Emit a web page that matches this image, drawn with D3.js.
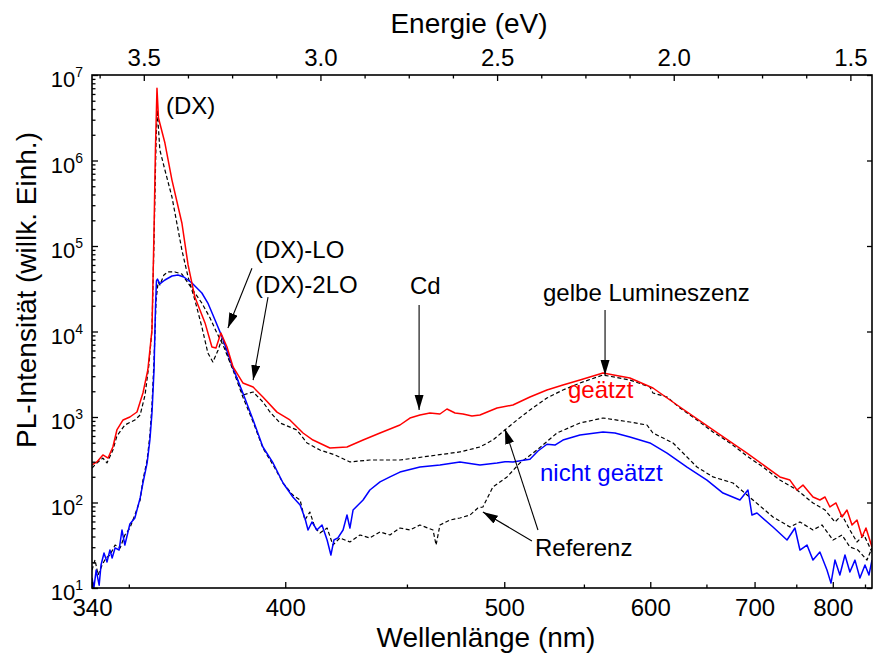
<!DOCTYPE html>
<html>
<head>
<meta charset="utf-8">
<script src="https://cdn.jsdelivr.net/npm/d3@7"></script>
<style>
  body { margin: 0; background: #fff; }
  text { font-family: "Liberation Sans", Arial, Helvetica, sans-serif; fill: #000; }
</style>
</head>
<body>
<svg id="chart" width="874" height="654"></svg>
<script>
// Photoluminescence spectra: wavelength (nm) and intensity (arb. units)
const redNm = [340, 341.3, 342.9, 344.3, 345.6, 346.7, 348.4, 350.3, 352.3, 354.0, 355.4, 356.6, 357.2, 357.6, 358.06, 358.5, 360.4, 362.5, 365.5, 367.4, 369.5, 372.7, 374.9, 376.2, 377.8, 379.8, 381.8, 385.1, 388.6, 392.0, 397.0, 401.7, 406.6, 410.4, 417.0, 423.9, 430.6, 437.9, 446.8, 451.4, 456.1, 460.9, 465.8, 469.3, 473.4, 477.5, 482.2, 486.5, 495.9, 505.0, 515.1, 525.6, 535.9, 547.3, 563.5, 583.7, 602.2, 625.4, 656.4, 691.6, 729.5, 741.9, 750.9, 758.7, 772.1, 781.6, 788.8, 795.8, 804.7, 813.7, 821.3, 829.1, 837.0, 845.1, 851.6, 861.7];
const redI = [275, 298, 360, 331, 446, 705, 923, 1000, 1144, 1909, 3548, 10400, 154000, 1330000, 7000000, 3140000, 1600000, 590000, 186000, 60000, 25300, 12600, 6590, 6400, 9600, 6590, 3850, 2500, 2240, 1710, 1140, 923, 650, 538, 434, 446, 538, 650, 806, 973, 1055, 1114, 1084, 1240, 1114, 1084, 1027, 1055, 1274, 1381, 1714, 2070, 2368, 2709, 3271, 2858, 2183, 1309, 705, 379, 199, 183, 140, 160, 116, 107, 116, 88.6, 98.7, 67.7, 81.7, 54.6, 62.4, 39.5, 50.3, 30.2];

const blueNm = [340, 340.5, 341.1, 341.9, 342.4, 343.2, 344.0, 344.8, 345.4, 346.2, 347.3, 348.1, 348.9, 350.3, 351.7, 353.2, 354.0, 355.2, 356.0, 356.6, 357.2, 357.6, 357.9, 358.2, 358.9, 360.4, 362.5, 364.3, 366.1, 368.6, 371.7, 373.6, 375.9, 378.2, 381.8, 385.1, 388.6, 392.0, 395.6, 399.2, 402.8, 405.5, 407.3, 408.5, 410.0, 411.9, 413.9, 415.9, 417.4, 418.6, 420.2, 422.3, 423.9, 425.1, 426.4, 428.5, 430.6, 433.5, 437.9, 442.3, 446.8, 456.1, 465.8, 475.9, 486.5, 495.9, 500.4, 505.0, 510.3, 515.1, 520.0, 525.6, 530.7, 535.9, 547.3, 563.5, 572.3, 583.7, 599.7, 614.1, 631.8, 650.5, 666.4, 684.0, 692.7, 697.1, 702.7, 721.2, 738.3, 748.3, 754.7, 764.0, 772.1, 781.6, 791.6, 797.4, 803.2, 810.5, 818.2, 825.8, 833.8, 841.7, 850.0, 856.6, 861.7];
const blueI = [13.1, 10, 16.2, 10.8, 18.6, 25.7, 20.1, 27.8, 22.4, 29.4, 27.8, 47.7, 31.8, 56.1, 65.9, 113, 169, 290, 538, 1114, 3548, 17800, 39000, 41000, 36000, 40000, 44600, 45700, 43400, 36900, 28200, 21500, 13600, 8600, 3740, 1909, 923, 446, 290, 169, 116, 93.5, 65.9, 47.7, 59.2, 47.7, 54.6, 36.4, 24.3, 36.4, 38.5, 47.7, 71.4, 50.3, 81.7, 93.5, 107, 140, 174, 199, 227, 260, 275, 298, 275, 290, 300, 298, 310, 320, 400, 480, 470, 538, 616, 668, 650, 583, 497, 379, 260, 183, 129, 107, 140, 71.4, 75.4, 51.7, 36.4, 50.3, 27.8, 31.8, 21.2, 26.4, 16.2, 11.4, 21.2, 14.2, 24.3, 15.4, 21.2, 13.1, 18.6, 14.2, 21.2];

// Reference sample, scaled with the etched spectrum
const ref1Nm = [340, 341.3, 342.9, 344.0, 345.6, 346.7, 348.9, 351.7, 353.2, 354.6, 355.7, 356.6, 357.2, 357.8, 358.15, 358.9, 360.4, 362.5, 365.5, 367.4, 369.5, 371.7, 373.6, 375.2, 376.9, 378.2, 380.8, 383.1, 385.1, 388.6, 392.0, 394.5, 398.1, 404.3, 408.1, 413.1, 419.0, 425.1, 433.5, 446.8, 460.9, 475.9, 486.5, 493.6, 500.4, 507.4, 515.1, 525.6, 535.9, 547.3, 563.5, 583.7, 599.7, 602.2, 614.1, 625.4, 641.0, 656.4, 673.5, 691.6, 709.5, 729.5, 750.9, 772.1, 788.8, 803.2, 813.7, 825.8, 837.0, 848.3, 861.7];
const ref1I = [253, 290, 331, 290, 411, 600, 806, 923, 1055, 1809, 4055, 10400, 118000, 1740000, 3900000, 1330000, 774000, 374000, 89800, 43400, 23400, 11300, 5600, 4400, 6080, 8400, 4400, 2860, 1810, 1960, 1500, 1144, 851, 705, 497, 411, 360, 298, 314, 314, 350, 390, 446, 538, 705, 923, 1207, 1668, 2070, 2500, 3099, 2709, 2243, 1909, 1714, 1274, 923, 668, 497, 350, 260, 183, 140, 98.7, 81.7, 59.2, 71.4, 47.7, 34.5, 41.7, 26.4];

// Reference sample, scaled with the unetched spectrum
const ref2Nm = [340, 340.8, 341.6, 342.7, 343.7, 344.8, 346.2, 347.6, 348.9, 350.3, 351.7, 353.2, 354.0, 355.2, 356.0, 356.6, 357.2, 357.8, 358.4, 358.9, 360.1, 361.3, 363.4, 365.5, 367.4, 369.5, 371.7, 374.3, 376.5, 378.5, 381.8, 385.1, 388.6, 392.0, 395.6, 399.2, 402.8, 405.5, 407.3, 409.2, 411.2, 413.1, 415.9, 418.2, 421.0, 425.1, 429.3, 433.5, 437.9, 442.3, 446.8, 451.4, 456.1, 462.4, 463.9, 465.8, 470.8, 475.9, 481.2, 485.4, 488.1, 493.6, 501.6, 509.1, 519.4, 532.0, 547.3, 563.5, 583.7, 597.3, 602.2, 619.3, 641.0, 656.4, 676.7, 698.2, 721.2, 741.9, 754.7, 772.1, 784.5, 800.3, 813.7, 825.8, 838.6, 853.3, 861.7];
const ref2I = [16.2, 21.3, 14.2, 18.6, 22.4, 24.3, 31.8, 29.4, 41.7, 50.3, 71.4, 107, 183, 314, 616, 1381, 4640, 23400, 37900, 35000, 45800, 49700, 49700, 47000, 36900, 28200, 21500, 14400, 9600, 6950, 3548, 1714, 874, 434, 275, 169, 122, 107, 62.4, 77.4, 50.3, 44, 50.3, 31.8, 38.5, 34.5, 41.7, 38.5, 45.2, 41.7, 50.3, 47.7, 54.6, 47.7, 31.8, 54.6, 62.4, 65.9, 71.4, 86.3, 88.6, 152, 199, 290, 411, 650, 851, 973, 874, 806, 650, 497, 260, 199, 169, 107, 67.7, 51.7, 59.2, 47.7, 54.6, 36.4, 41.7, 30.2, 27.8, 21.2, 29.4];

// Axis ticks
const nmMajor = [340, 400, 500, 600, 700, 800];
const nmMinor = [350, 450, 550, 650, 750, 850];
const eVMajor = [3.5, 3.0, 2.5, 2.0, 1.5];
const eVMinor = [3.625, 3.375, 3.25, 3.125, 2.875, 2.75, 2.625, 2.375, 2.25, 2.125, 1.875, 1.75, 1.625];
const decades = [10, 100, 1e3, 1e4, 1e5, 1e6, 1e7];

// Annotation arrows [from nm, from I, to nm, to I]
const arrows = [
  [388.2, 5.5e4, 380.1, 1.1e4],
  [393.8, 2.53e4, 388.6, 2.7e3],
  [455.7, 2.04e4, 455.7, 1.21e3],
  [565.0, 1.78e4, 565.0, 3.1e3],
  [520.0, 47.7, 500.4, 724],
  [516.3, 35.5, 488.1, 77.4]
];

const HC = 1239.84; // eV*nm
const plot = { left: 92, right: 872, top: 75, bottom: 588 };

const svg = d3.select("#chart");

// Energy is linear across the frame; wavelength follows from E = hc/lambda
const xE = d3.scaleLinear().domain([HC / 340, 1.4388]).range([plot.left, plot.right]);
const xNm = nm => xE(HC / nm);
const y = d3.scaleLog().domain([10, 1e7]).range([plot.bottom, plot.top]);

const defs = svg.append("defs");
defs.append("clipPath").attr("id", "clip")
  .append("rect").attr("x", plot.left).attr("y", plot.top)
  .attr("width", plot.right - plot.left).attr("height", plot.bottom - plot.top);
defs.append("marker").attr("id", "head")
  .attr("markerUnits", "userSpaceOnUse")
  .attr("markerWidth", 16).attr("markerHeight", 10)
  .attr("refX", 15).attr("refY", 4.5).attr("orient", "auto")
  .append("path").attr("d", "M0,0 L15,4.5 L0,9 Z").attr("fill", "#000");

// Spectra
const line = d3.line().x(d => xNm(d[0])).y(d => y(d[1]));
const series = [
  { nm: ref2Nm, v: ref2I, color: "#000", dash: "4,2.5", w: 1.2 },
  { nm: ref1Nm, v: ref1I, color: "#000", dash: "4,2.5", w: 1.2 },
  { nm: blueNm, v: blueI, color: "#0000ff", dash: null, w: 1.5 },
  { nm: redNm, v: redI, color: "#ff0000", dash: null, w: 1.5 }
];
const gData = svg.append("g").attr("clip-path", "url(#clip)");
series.forEach(s => {
  gData.append("path")
    .datum(d3.zip(s.nm, s.v))
    .attr("fill", "none")
    .attr("stroke", s.color)
    .attr("stroke-width", s.w)
    .attr("stroke-dasharray", s.dash)
    .attr("stroke-linejoin", "round")
    .attr("d", line);
});

// Frame
svg.append("rect").attr("x", plot.left).attr("y", plot.top)
  .attr("width", plot.right - plot.left).attr("height", plot.bottom - plot.top)
  .attr("fill", "none").attr("stroke", "#000").attr("stroke-width", 1.6);

function styleAxis(g) {
  g.select(".domain").remove();
  g.selectAll(".tick line").attr("stroke", "#000").attr("stroke-width", 1.3);
}
const tickFont = g => g.selectAll("text").attr("font-size", 24)
  .style("font-family", "'Liberation Sans', Arial, sans-serif").style("fill", "#000");

// Bottom axis (wavelength)
svg.append("g").attr("transform", `translate(0,${plot.bottom})`)
  .call(d3.axisBottom(xE)
    .tickValues(nmMajor.map(n => HC / n))
    .tickFormat(e => Math.round(HC / e))
    .tickSizeInner(-6).tickSizeOuter(0).tickPadding(11))
  .call(styleAxis).call(tickFont);
svg.append("g").attr("transform", `translate(0,${plot.bottom})`)
  .call(d3.axisBottom(xE).tickValues(nmMinor.map(n => HC / n)).tickFormat("").tickSizeInner(-3.5).tickSizeOuter(0))
  .call(styleAxis);

// Top axis (energy)
svg.append("g").attr("transform", `translate(0,${plot.top})`)
  .call(d3.axisTop(xE).tickValues(eVMajor).tickFormat(d3.format(".1f"))
    .tickSizeInner(-6).tickSizeOuter(0).tickPadding(9))
  .call(styleAxis).call(tickFont);
svg.append("g").attr("transform", `translate(0,${plot.top})`)
  .call(d3.axisTop(xE).tickValues(eVMinor).tickFormat("").tickSizeInner(-3.5).tickSizeOuter(0))
  .call(styleAxis);

// Left axis (log intensity), mirrored major ticks on the right
const minors = [];
decades.slice(0, -1).forEach(d => { for (let k = 2; k <= 9; k++) minors.push(d * k); });
svg.append("g").attr("transform", `translate(${plot.left},0)`)
  .call(d3.axisLeft(y).tickValues(decades).tickFormat("").tickSizeInner(-6).tickSizeOuter(0))
  .call(styleAxis);
svg.append("g").attr("transform", `translate(${plot.left},0)`)
  .call(d3.axisLeft(y).tickValues(minors).tickFormat("").tickSizeInner(-3.5).tickSizeOuter(0))
  .call(styleAxis);
svg.append("g").attr("transform", `translate(${plot.right},0)`)
  .call(d3.axisRight(y).tickValues(decades).tickFormat("").tickSizeInner(-5).tickSizeOuter(0))
  .call(styleAxis);

const yLabels = svg.append("g");
decades.forEach(d => {
  const t = yLabels.append("text")
    .attr("x", plot.left - 9).attr("y", y(d) + 12)
    .attr("text-anchor", "end").attr("font-size", 22);
  t.append("tspan").text("10");
  t.append("tspan").attr("font-size", 14).attr("dy", -10).text(Math.round(Math.log10(d)));
});

// Axis titles
svg.append("text").attr("x", 486).attr("y", 647).attr("text-anchor", "middle")
  .attr("font-size", 28).text("Wellenlänge (nm)");
svg.append("text").attr("x", 469).attr("y", 33).attr("text-anchor", "middle")
  .attr("font-size", 28).text("Energie (eV)");
svg.append("text").attr("transform", "translate(36,290) rotate(-90)")
  .attr("text-anchor", "middle").attr("font-size", 28).text("PL-Intensität (willk. Einh.)");

// Annotation arrows
svg.append("g").selectAll("line").data(arrows).join("line")
  .attr("x1", d => xNm(d[0])).attr("y1", d => y(d[1]))
  .attr("x2", d => xNm(d[2])).attr("y2", d => y(d[3]))
  .attr("stroke", "#000").attr("stroke-width", 1.1)
  .attr("marker-end", "url(#head)");

// Annotation labels
const notes = [
  { t: "(DX)", x: 166, y: 114, c: "#000" },
  { t: "(DX)-LO", x: 255, y: 258, c: "#000" },
  { t: "(DX)-2LO", x: 255, y: 293, c: "#000" },
  { t: "Cd", x: 410, y: 294, c: "#000" },
  { t: "gelbe Lumineszenz", x: 543, y: 301, c: "#000" },
  { t: "geätzt", x: 568, y: 398, c: "#ff0000" },
  { t: "nicht geätzt", x: 540, y: 481, c: "#0000ff" },
  { t: "Referenz", x: 535, y: 556, c: "#000" }
];
svg.append("g").selectAll("text").data(notes).join("text")
  .attr("x", d => d.x).attr("y", d => d.y)
  .attr("font-size", 24).style("fill", d => d.c).text(d => d.t);
</script>
</body>
</html>
